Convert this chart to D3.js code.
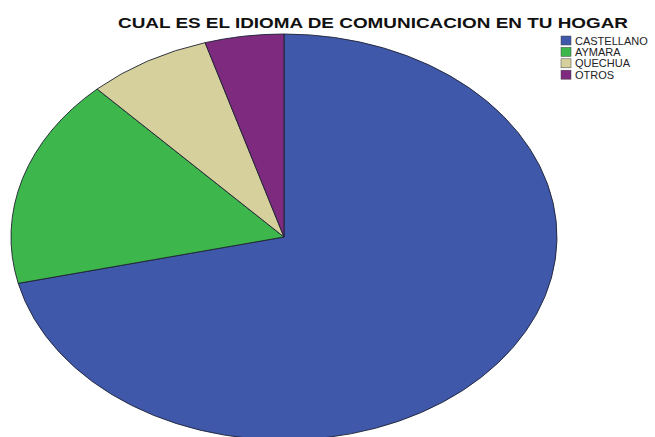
<!DOCTYPE html>
<html>
<head>
<meta charset="utf-8">
<script src="https://cdn.jsdelivr.net/npm/d3@7"></script>
<style>
  html, body { margin: 0; padding: 0; background: #fff; }
  svg { display: block; }
</style>
</head>
<body>
<div id="chart"></div>
<script>
// Language spoken at home: survey counts per category
const categories = ["CASTELLANO", "AYMARA", "QUECHUA", "OTROS"];
const counts = [107, 25, 11, 7];
const colors = ["#3f58aa", "#3db64b", "#d6d09c", "#7e2a7f"];
const title = "CUAL ES EL IDIOMA DE COMUNICACION EN TU HOGAR";

const width = 655, height = 437;
const cx = 284, cy = 237, rx = 273, ry = 203;

const svg = d3.select("#chart").append("svg")
  .attr("width", width)
  .attr("height", height);

const data = categories.map((c, i) => ({ name: c, value: counts[i], color: colors[i] }));

const pie = d3.pie().sort(null).value(d => d.value);
const arc = d3.arc().innerRadius(0).outerRadius(ry);

// Elliptical pie: draw a circular pie and stretch it horizontally
const g = svg.append("g")
  .attr("transform", `translate(${cx},${cy}) scale(${rx / ry},1)`);

g.selectAll("path")
  .data(pie(data))
  .join("path")
  .attr("d", arc)
  .attr("fill", d => d.data.color)
  .attr("stroke", "#1e2233")
  .attr("stroke-width", 0.9)
  .attr("vector-effect", "non-scaling-stroke");

// Title, widened to the same horizontal stretch as the chart
svg.append("text")
  .attr("x", 118)
  .attr("y", 28)
  .attr("font-family", "Liberation Sans, Arial, sans-serif")
  .attr("font-weight", "bold")
  .attr("font-size", 15)
  .attr("fill", "#111")
  .attr("textLength", 510)
  .attr("lengthAdjust", "spacingAndGlyphs")
  .text(title);

const legend = svg.append("g").attr("transform", "translate(561,36)");
const row = legend.selectAll("g")
  .data(data)
  .join("g")
  .attr("transform", (d, i) => `translate(0,${i * 11.4})`);

row.append("rect")
  .attr("width", 10)
  .attr("height", 9)
  .attr("fill", d => d.color)
  .attr("stroke", "#444")
  .attr("stroke-width", 0.5);

row.append("text")
  .attr("x", 14)
  .attr("y", 8.5)
  .attr("font-family", "Liberation Sans, Arial, sans-serif")
  .attr("font-size", 11)
  .attr("fill", "#222")
  .text(d => d.name);
</script>
</body>
</html>
